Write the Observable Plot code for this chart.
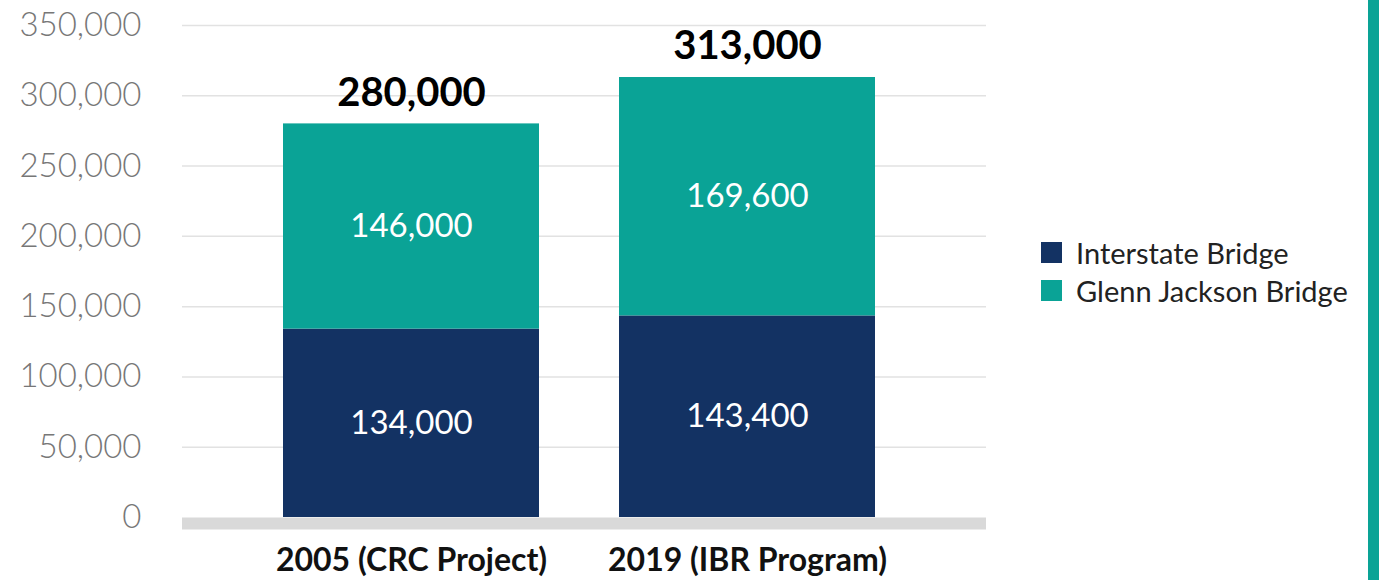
<!DOCTYPE html>
<html>
<head>
<meta charset="utf-8">
<script src="https://cdn.jsdelivr.net/npm/d3@7"></script>
<script src="https://cdn.jsdelivr.net/npm/@observablehq/plot@0.6"></script>
<style>
  html, body { margin: 0; padding: 0; background: #fff; }
  #wrap { position: relative; width: 1379px; height: 580px; overflow: hidden; font-family: Lato, sans-serif; }
  #strip { position: absolute; left: 1368px; top: 0; width: 11px; height: 580px; background: #0aa396; }
  #legend { position: absolute; left: 1041px; top: 233px; font-family: Lato, sans-serif; font-size: 29px; color: #222; }
  .item { display: flex; align-items: center; height: 38px; }
  .sw { width: 21px; height: 21px; margin-right: 14px; flex: none; }
</style>
</head>
<body>
<div id="wrap"></div>
<script>
const categories = ["2005 (CRC Project)", "2019 (IBR Program)"];
const seriesNames = ["Interstate Bridge", "Glenn Jackson Bridge"];
const interstate = [134000, 143400];
const glennJackson = [146000, 169600];
const totals = [280000, 313000];
const yTicks = [0, 50000, 100000, 150000, 200000, 250000, 300000, 350000];
const colors = ["#133263", "#0aa396"];

const rows = [];
categories.forEach((c, i) => {
  rows.push({cat: c, series: seriesNames[0], value: interstate[i]});
  rows.push({cat: c, series: seriesNames[1], value: glennJackson[i]});
});
const totalRows = categories.map((c, i) => ({cat: c, total: totals[i]}));
const fmt = d3.format(",");

const chart = Plot.plot({
  width: 1379,
  height: 580,
  marginLeft: 182,
  marginRight: 393,
  marginTop: 25,
  marginBottom: 63,
  style: {fontFamily: "Lato, sans-serif", background: "transparent", overflow: "visible"},
  x: {domain: categories, paddingInner: 0.239, paddingOuter: 0.3135, align: 0.474, label: null},
  y: {domain: [0, 350000], label: null},
  color: {domain: seriesNames, range: colors},
  marks: [
    Plot.ruleY(yTicks.filter(d => d > 0), {stroke: "#e2e2e2", strokeWidth: 1.5}),
    Plot.axisY({ticks: yTicks, tickSize: 0, tickPadding: 41, tickFormat: fmt, fontSize: 33, fontWeight: 300, fill: "#777", label: null}),
    Plot.ruleY([0], {stroke: "#d9d9d9", strokeWidth: 12, dy: 6}),
    Plot.barY(rows, Plot.stackY({x: "cat", y: "value", fill: "series", order: seriesNames})),
    Plot.text(rows, Plot.stackY({x: "cat", y: "value", z: "series", order: seriesNames, text: d => fmt(d.value), fill: "white", fontSize: 33, fontWeight: 400})),
    Plot.text(totalRows, {x: "cat", y: "total", text: d => fmt(d.total), dy: -31, fontSize: 40, fontWeight: 700, fill: "#000"}),
    Plot.axisX({tickSize: 0, tickPadding: 31, fontSize: 32, fontWeight: 700, fill: "#111", label: null})
  ]
});

const wrap = document.getElementById("wrap");
wrap.appendChild(chart);
const strip = document.createElement("div");
strip.id = "strip";
wrap.appendChild(strip);
const legend = document.createElement("div");
legend.id = "legend";
seriesNames.forEach((s, i) => {
  const it = document.createElement("div");
  it.className = "item";
  const sw = document.createElement("span");
  sw.className = "sw";
  sw.style.background = colors[i];
  const lab = document.createElement("span");
  lab.textContent = s;
  it.appendChild(sw);
  it.appendChild(lab);
  legend.appendChild(it);
});
wrap.appendChild(legend);
</script>
</body>
</html>
